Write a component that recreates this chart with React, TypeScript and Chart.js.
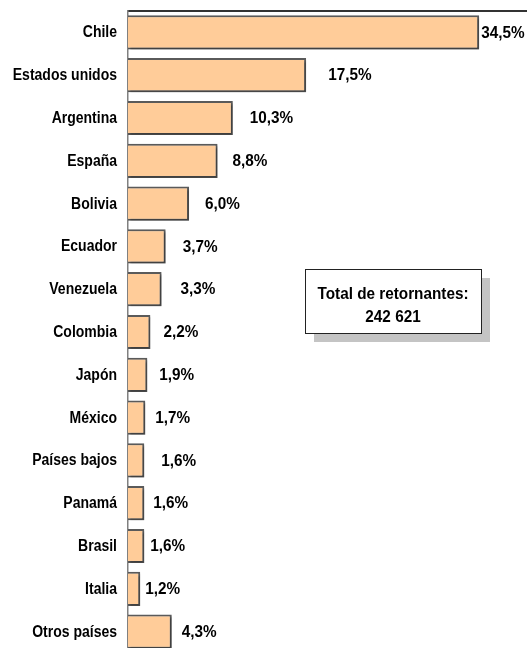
import React, { useEffect, useRef } from "react";
import { Chart, registerables } from "chart.js";

Chart.register(...registerables);

const categories = [
  "Chile", "Estados unidos", "Argentina", "España", "Bolivia", "Ecuador",
  "Venezuela", "Colombia", "Japón", "México", "Países bajos", "Panamá",
  "Brasil", "Italia", "Otros países",
];
const shares = [34.5, 17.5, 10.3, 8.8, 6.0, 3.7, 3.3, 2.2, 1.9, 1.7, 1.6, 1.6, 1.6, 1.2, 4.3];
const valueLabels = ["34,5%", "17,5%", "10,3%", "8,8%", "6,0%", "3,7%", "3,3%", "2,2%", "1,9%", "1,7%", "1,6%", "1,6%", "1,6%", "1,2%", "4,3%"];
const labelGaps = [2, 22, 17, 15, 16, 17, 19, 13, 12, 10, 17, 9, 6, 5, 10];
const boxLines = ["Total de retornantes:", "242 621"];

const FONT = "'Liberation Sans', Arial, sans-serif";

function drawSqueezed(ctx: any, text: string, x: number, y: number, sx: number, align: string) {
  ctx.save();
  ctx.translate(x, y);
  ctx.scale(sx, 1);
  ctx.textAlign = align;
  ctx.fillText(text, 0, 0);
  ctx.restore();
}

const labelPlugin = {
  id: "valueLabels",
  afterDatasetsDraw(chart: any) {
    const ctx = chart.ctx;
    const meta = chart.getDatasetMeta(0);
    const yScale = chart.scales.y;
    ctx.save();
    ctx.fillStyle = "#000";
    ctx.textBaseline = "middle";
    ctx.font = `bold 17px ${FONT}`;
    meta.data.forEach((bar: any, i: number) => {
      drawSqueezed(ctx, valueLabels[i], bar.x + labelGaps[i], bar.y + 0.5, 0.9, "left");
    });
    ctx.font = `bold 16px ${FONT}`;
    categories.forEach((c, i) => {
      const y = yScale.getPixelForValue(i);
      drawSqueezed(ctx, c, yScale.right - 11, y + 0.5, 0.875, "right");
    });
    ctx.restore();
  },
};

const boxPlugin = {
  id: "totalBox",
  afterDraw(chart: any) {
    const ctx = chart.ctx;
    const x = 305, y = 269, w = 176, h = 64;
    ctx.save();
    ctx.fillStyle = "#c4c4c4";
    ctx.fillRect(x + 9, y + 9, w, h);
    ctx.fillStyle = "#fff";
    ctx.fillRect(x, y, w, h);
    ctx.strokeStyle = "#222";
    ctx.lineWidth = 1;
    ctx.strokeRect(x + 0.5, y + 0.5, w, h);
    ctx.fillStyle = "#000";
    ctx.font = `bold 17px ${FONT}`;
    ctx.textBaseline = "middle";
    drawSqueezed(ctx, boxLines[0], x + w / 2, y + 25, 0.9, "center");
    drawSqueezed(ctx, boxLines[1], x + w / 2, y + 48, 0.9, "center");
    ctx.restore();
  },
};

const shadowPlugin = {
  id: "barShadow",
  beforeDatasetsDraw(chart: any) {
    const ctx = chart.ctx;
    ctx.save();
    ctx.shadowColor = "rgba(0,0,0,0.3)";
    ctx.shadowOffsetX = 2;
    ctx.shadowOffsetY = 2;
    ctx.shadowBlur = 2;
  },
  afterDatasetsDraw(chart: any) {
    chart.ctx.restore();
  },
};

export default function App() {
  const ref = useRef<HTMLCanvasElement | null>(null);
  useEffect(() => {
    if (!ref.current) return;
    const chart = new Chart(ref.current, {
      type: "bar",
      data: {
        labels: categories,
        datasets: [
          {
            data: shares,
            backgroundColor: "#FFCC99",
            borderColor: "#5a5a5a",
            borderWidth: 2,
            borderSkipped: "left",
            barPercentage: 0.8,
            categoryPercentage: 1,
          },
        ],
      },
      options: {
        indexAxis: "y",
        animation: false,
        responsive: false,
        maintainAspectRatio: false,
        layout: { padding: 0 },
        plugins: { legend: { display: false }, tooltip: { enabled: false } },
        scales: {
          x: {
            position: "top",
            min: 0,
            max: 39.2,
            grid: { display: false },
            border: { display: true, color: "#333", width: 2 },
            ticks: { display: false },
            afterFit(scale: any) {
              scale.height = 11;
              scale.paddingLeft = 0;
              scale.paddingRight = 0;
            },
          },
          y: {
            grid: { display: false },
            border: { display: true, color: "#808080", width: 1.5 },
            ticks: { display: false },
            afterFit(scale: any) {
              scale.width = 128;
              scale.paddingTop = 0;
              scale.paddingBottom = 0;
            },
          },
        },
      },
      plugins: [shadowPlugin, labelPlugin, boxPlugin],
    });
    return () => chart.destroy();
  }, []);
  return (
    <div style={{ position: "fixed", left: 0, top: 0, width: 527, height: 648, overflow: "hidden", background: "#fff" }}>
      <canvas ref={ref} width={527} height={653} style={{ display: "block" }} />
    </div>
  );
}
